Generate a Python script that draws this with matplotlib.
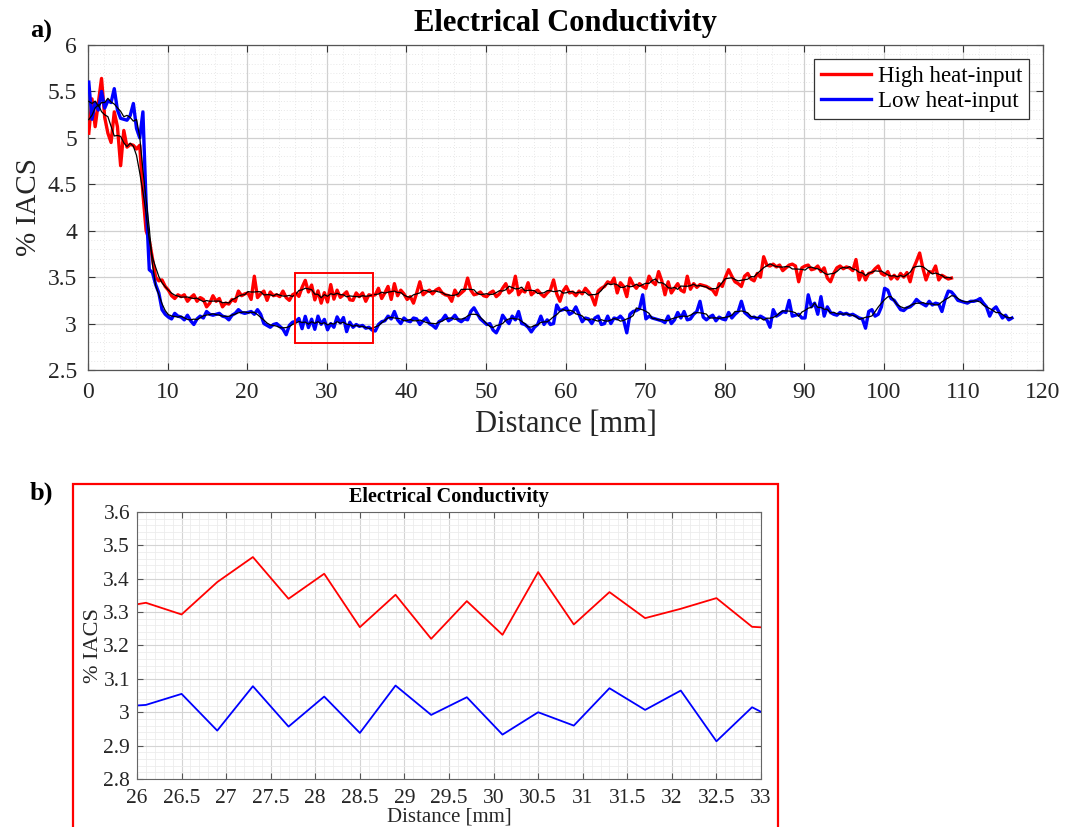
import numpy as np
import pandas as pd
import matplotlib
matplotlib.use("Agg")
import matplotlib.pyplot as plt
from matplotlib.patches import Rectangle
from matplotlib.ticker import MultipleLocator, FuncFormatter

plt.rcParams["font.family"] = ["Liberation Serif", "DejaVu Serif"]

# sampling of the scans (mm)
X_START = 0.1
X_STEP = 0.4

# % IACS, high heat-input, every 0.4 mm from 0.1 mm
high_heat = [
    5.05, 5.42, 5.12, 5.38, 5.64, 5.22, 5.05, 4.95, 5.28, 5.12,
    4.70, 5.08, 4.90, 4.93, 4.92, 4.88, 4.92, 4.40, 4.00, 3.90,
    3.70, 3.50, 3.46, 3.47, 3.40, 3.36, 3.30, 3.27, 3.31, 3.29,
    3.31, 3.24, 3.28, 3.31, 3.24, 3.28, 3.26, 3.18, 3.22, 3.30,
    3.24, 3.27, 3.18, 3.22, 3.21, 3.26, 3.24, 3.35, 3.30, 3.32,
    3.33, 3.26, 3.51, 3.28, 3.32, 3.35, 3.25, 3.34, 3.30, 3.31,
    3.29, 3.35, 3.28, 3.25, 3.31, 3.328, 3.293, 3.39, 3.465, 3.34,
    3.415, 3.255, 3.352, 3.22, 3.333, 3.232, 3.42, 3.263, 3.36, 3.282,
    3.31, 3.342, 3.256, 3.25, 3.33, 3.29, 3.33, 3.24, 3.31, 3.30,
    3.31, 3.38, 3.27, 3.33, 3.40, 3.26, 3.43, 3.30, 3.36, 3.32,
    3.26, 3.29, 3.22, 3.33, 3.45, 3.31, 3.34, 3.36, 3.32, 3.36,
    3.38, 3.33, 3.31, 3.30, 3.24, 3.36, 3.30, 3.33, 3.36, 3.49,
    3.36, 3.31, 3.32, 3.34, 3.30, 3.29, 3.33, 3.35, 3.29, 3.32,
    3.38, 3.43, 3.33, 3.36, 3.51, 3.31, 3.36, 3.34, 3.44, 3.31,
    3.34, 3.36, 3.32, 3.29, 3.33, 3.36, 3.47, 3.32, 3.24, 3.35,
    3.40, 3.33, 3.34, 3.30, 3.35, 3.32, 3.38, 3.34, 3.29, 3.20,
    3.35, 3.38, 3.40, 3.45, 3.43, 3.49, 3.33, 3.44, 3.40, 3.29,
    3.49, 3.42, 3.38, 3.43, 3.40, 3.38, 3.51, 3.45, 3.42, 3.56,
    3.46, 3.31, 3.45, 3.33, 3.38, 3.43, 3.36, 3.34, 3.51, 3.37,
    3.43, 3.39, 3.42, 3.41, 3.40, 3.38, 3.36, 3.31, 3.43, 3.40,
    3.50, 3.58, 3.51, 3.45, 3.43, 3.40, 3.51, 3.54, 3.48, 3.46,
    3.54, 3.50, 3.72, 3.63, 3.62, 3.64, 3.61, 3.63, 3.57, 3.60,
    3.63, 3.64, 3.62, 3.45, 3.60, 3.62, 3.63, 3.58, 3.59, 3.62,
    3.56, 3.60, 3.49, 3.45, 3.54, 3.60, 3.62, 3.59, 3.61, 3.60,
    3.57, 3.69, 3.47, 3.56, 3.47, 3.54, 3.55, 3.59, 3.62, 3.54,
    3.52, 3.56, 3.48, 3.52, 3.48, 3.54, 3.50, 3.55, 3.45, 3.59,
    3.67, 3.76, 3.60, 3.47, 3.56, 3.55, 3.62, 3.47, 3.52, 3.50,
    3.48, 3.49,
]

# % IACS, low heat-input, same sampling
low_heat = [
    5.60, 5.20, 5.38, 5.30, 5.50, 5.32, 5.40, 5.38, 5.53, 5.30,
    5.21, 5.20, 5.19, 5.24, 5.37, 5.10, 5.00, 5.28, 4.30, 3.58,
    3.55, 3.42, 3.33, 3.15, 3.10, 3.07, 3.05, 3.11, 3.08, 3.07,
    3.04, 3.09, 3.03, 2.99, 3.05, 3.08, 3.06, 3.13, 3.10, 3.09,
    3.10, 3.11, 3.08, 3.07, 3.04, 3.09, 3.11, 3.15, 3.12, 3.11,
    3.12, 3.13, 3.10, 3.15, 3.10, 3.00, 2.98, 2.96, 2.99, 3.00,
    2.97, 2.94, 2.88, 2.98, 3.015, 3.022, 3.055, 2.945, 3.078, 2.957,
    3.047, 2.938, 3.08, 2.992, 3.045, 2.933, 3.00, 2.96, 3.072, 3.007,
    3.065, 2.913, 3.015, 2.96, 2.99, 2.97, 2.98, 2.95, 2.96, 2.93,
    2.92, 2.99, 3.02, 3.03, 3.08, 3.05, 3.13, 3.04, 3.00, 3.06,
    3.03, 3.02, 3.06, 3.05, 2.99, 3.03, 3.06, 3.00, 2.98, 2.95,
    3.02, 3.04, 3.09, 3.03, 3.05, 3.09, 3.04, 3.02, 3.05, 3.04,
    3.13, 3.17, 3.11, 3.05, 3.02, 2.99, 3.00, 2.93, 2.90, 2.97,
    3.09, 3.04, 3.00, 3.08, 3.04, 3.13, 3.00, 2.99, 2.96, 2.91,
    2.96, 2.99, 3.08, 2.99, 3.04, 2.99, 3.00, 3.20, 3.14, 3.15,
    3.17, 3.10, 3.12, 3.18, 3.10, 3.02, 3.06, 3.05, 3.00, 3.06,
    3.08, 2.99, 3.00, 3.08, 3.00, 3.06, 3.05, 3.08, 3.04, 2.90,
    3.10, 3.13, 3.14, 3.16, 3.31, 3.05, 3.08, 3.06, 3.05, 3.04,
    3.03, 3.01, 3.08, 3.00, 3.04, 3.12, 3.06, 3.13, 3.04, 3.05,
    3.10, 3.13, 3.24, 3.07, 3.04, 3.07, 3.09, 3.03, 3.07, 3.05,
    3.04, 3.12, 3.06, 3.10, 3.13, 3.24, 3.12, 3.09, 3.06, 3.07,
    3.05, 3.08, 3.06, 3.04, 2.96, 3.15, 3.08, 3.10, 3.13, 3.12,
    3.25, 3.08, 3.09, 3.10, 3.06, 3.06, 3.31, 3.18, 3.22, 3.10,
    3.29, 3.08, 3.18, 3.12, 3.10, 3.09, 3.12, 3.10, 3.11, 3.09,
    3.10, 3.08, 3.06, 3.05, 2.95, 3.13, 3.15, 3.08, 3.10, 3.18,
    3.38, 3.36, 3.27, 3.25, 3.20, 3.15, 3.14, 3.17, 3.18, 3.21,
    3.26, 3.23, 3.21, 3.19, 3.24, 3.20, 3.22, 3.21, 3.13, 3.26,
    3.35, 3.34, 3.30, 3.25, 3.24, 3.23, 3.22, 3.24, 3.24, 3.25,
    3.27, 3.22, 3.18, 3.08, 3.15, 3.18, 3.12, 3.06, 3.09, 3.04,
    3.06,
]

series_labels = ["High heat-input", "Low heat-input"]
series_colors = ["#ff0000", "#0000ff"]
zoom_box = (26.0, 2.79, 9.8, 0.76)  # x, y, width, height in data units


def main():
    x_high = X_START + X_STEP * np.arange(len(high_heat))
    x_low = X_START + X_STEP * np.arange(len(low_heat))
    # black curves: moving average of each scan
    smooth_high = pd.Series(high_heat).rolling(5, center=True, min_periods=1).mean()
    smooth_low = pd.Series(low_heat).rolling(5, center=True, min_periods=1).mean()

    fig = plt.figure(figsize=(10.72, 8.27), dpi=100)
    fmt = FuncFormatter(lambda v, p: f"{v:g}")

    # ---- a) full scan ----
    ax = fig.add_axes([88 / 1072, 1 - 370 / 827, 955 / 1072, 325 / 827])
    ax.plot(x_high, high_heat, color=series_colors[0], lw=2.4, label=series_labels[0], zorder=3)
    ax.plot(x_low, low_heat, color=series_colors[1], lw=2.4, label=series_labels[1], zorder=3)
    ax.plot(x_high, smooth_high, color="black", lw=0.9, zorder=4)
    ax.plot(x_low, smooth_low, color="black", lw=0.9, zorder=4)
    ax.add_patch(Rectangle(zoom_box[:2], zoom_box[2], zoom_box[3], fill=False,
                           ec="#ff0000", lw=1.4, zorder=5))

    ax.set_xlim(0, 120)
    ax.set_ylim(2.5, 6)
    ax.xaxis.set_major_locator(MultipleLocator(10))
    ax.xaxis.set_minor_locator(MultipleLocator(2))
    ax.yaxis.set_major_locator(MultipleLocator(0.5))
    ax.yaxis.set_minor_locator(MultipleLocator(0.1))
    ax.xaxis.set_major_formatter(fmt)
    ax.yaxis.set_major_formatter(fmt)
    ax.grid(which="major", color="#d0d0d0", lw=0.9)
    ax.grid(which="minor", color="#e0e0e0", lw=0.6, ls=(0, (1, 2.5)))
    ax.tick_params(which="both", direction="in", top=True, right=True,
                   labelsize=17, colors="#333333", labelcolor="#262626")
    ax.tick_params(which="major", length=5)
    ax.tick_params(which="minor", length=0)
    ax.tick_params(axis="x", pad=9)
    ax.tick_params(axis="y", pad=8)
    for sp in ax.spines.values():
        sp.set_color("#555555")
        sp.set_linewidth(0.9)
    ax.set_xlabel("Distance [mm]", fontsize=22, color="#262626", labelpad=5)
    ax.set_ylabel("% IACS", fontsize=21, color="#262626", labelpad=4)
    leg = ax.legend(loc="upper right", fontsize=16.5, frameon=True, fancybox=False,
                    edgecolor="#333333", framealpha=1, handlelength=2.2,
                    borderpad=0.3, labelspacing=0.2, handletextpad=0.3,
                    borderaxespad=0.6)
    leg.get_frame().set_linewidth(0.9)
    fig.text(565.5 / 1072, 1 - 23 / 827, "Electrical Conductivity", ha="center",
             va="center", fontsize=22, fontweight="bold")
    fig.text(41 / 1072, 1 - 31 / 827, "a)", ha="center", va="center",
             fontsize=19, fontweight="bold")

    # ---- b) zoom on 26-33 mm ----
    ax2 = fig.add_axes([137 / 1072, 1 - 779 / 827, 624 / 1072, 267 / 827])
    ax2.plot(x_high, high_heat, color=series_colors[0], lw=1.3)
    ax2.plot(x_low, low_heat, color=series_colors[1], lw=1.3)
    ax2.set_xlim(26, 33)
    ax2.set_ylim(2.8, 3.6)
    ax2.xaxis.set_major_locator(MultipleLocator(0.5))
    ax2.xaxis.set_minor_locator(MultipleLocator(0.1))
    ax2.yaxis.set_major_locator(MultipleLocator(0.1))
    ax2.yaxis.set_minor_locator(MultipleLocator(0.02))
    ax2.xaxis.set_major_formatter(fmt)
    ax2.yaxis.set_major_formatter(fmt)
    ax2.grid(which="major", color="#d4d4d4", lw=0.8)
    ax2.grid(which="minor", color="#ececec", lw=0.6)
    ax2.tick_params(which="both", direction="in", top=True, right=True,
                    labelsize=15.5, labelcolor="#262626", colors="#555555")
    ax2.tick_params(which="major", length=4)
    ax2.tick_params(which="minor", length=0)
    ax2.tick_params(axis="x", pad=7)
    ax2.tick_params(axis="y", pad=5)
    for sp in ax2.spines.values():
        sp.set_color("#666666")
        sp.set_linewidth(0.8)
    ax2.set_xlabel("Distance [mm]", fontsize=15, color="#262626", labelpad=0)
    ax2.set_ylabel("% IACS", fontsize=16, color="#262626", labelpad=0)
    fig.text(449 / 1072, 1 - 497 / 827, "Electrical Conductivity", ha="center",
             va="center", fontsize=14.5, fontweight="bold")
    fig.text(41 / 1072, 1 - 493 / 827, "b)", ha="center", va="center",
             fontsize=19, fontweight="bold")

    # red frame around panel b
    fig.add_artist(Rectangle((73 / 1072, -0.01), 705 / 1072, 0.01 + 1 - 484 / 827,
                             transform=fig.transFigure, fill=False,
                             ec="#ff0000", lw=1.6))

    fig.savefig("out.png", dpi=100)


if __name__ == "__main__":
    main()
